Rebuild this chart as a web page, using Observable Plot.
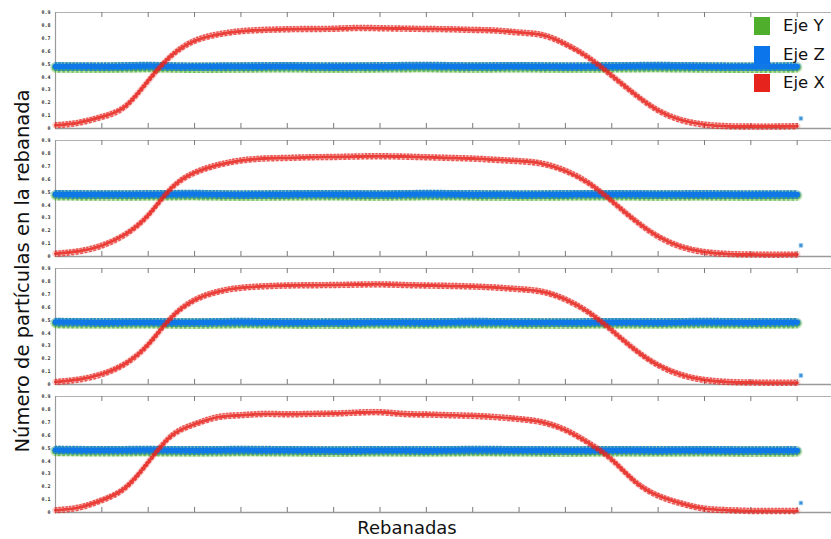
<!DOCTYPE html>
<html>
<head>
<meta charset="utf-8">
<script src="https://cdn.jsdelivr.net/npm/d3@7"></script>
<script src="https://cdn.jsdelivr.net/npm/@observablehq/plot@0.6"></script>
<style>
  html, body { margin: 0; padding: 0; background: #fff; }
  #wrap { position: relative; width: 831px; height: 539px; overflow: hidden; font-family: "DejaVu Sans", sans-serif; }
  #wrap svg { position: absolute; left: 0; top: 0; }
  .ylab { position: absolute; left: 22px; top: 271px; transform: translate(-50%, -50%) rotate(-90deg); white-space: nowrap; font-size: 19.5px; color: #111; }
  .xlab { position: absolute; left: 407px; top: 517px; transform: translateX(-50%); font-size: 18px; color: #111; white-space: nowrap; }
  .legend { position: absolute; left: 754px; top: 17px; width: 77px; }
  .legend div { position: relative; height: 28.5px; font-size: 16.5px; color: #111; white-space: nowrap; }
  .legend span.sw { position: absolute; left: 0; top: 0; width: 16px; height: 18px; }
  .legend span.tx { position: absolute; left: 29px; top: -1px; white-space: nowrap; }
</style>
</head>
<body>
<div id="wrap"></div>
<script>
// Number of particles per slice, four runs (panels top to bottom).
// Red (Eje X) sampled every 50 slices, green/blue (Eje Y, Eje Z) every 100 slices.
const panels = [1, 2, 3, 4];
const seriesNames = ["Eje Y", "Eje Z", "Eje X"];
const seriesColors = ["#4fae2c", "#0b76ec", "#e6231d"];
const yTickValues = [0, 0.1, 0.2, 0.3, 0.4, 0.5, 0.6, 0.7, 0.8, 0.9];
const xTickValues = [100, 200, 300, 400, 500, 600, 700, 800, 900, 1000, 1100, 1200, 1300, 1400, 1500, 1600];
const redStep = 50;
const bandStep = 100;
const lastSlice = 1608;

const ejeX1 = [0.025, 0.045, 0.09, 0.17, 0.37, 0.565, 0.68, 0.73, 0.755, 0.765, 0.77, 0.772, 0.774, 0.78, 0.778, 0.775, 0.772, 0.77, 0.765, 0.76, 0.745, 0.725, 0.655, 0.55, 0.41, 0.265, 0.14, 0.065, 0.03, 0.018, 0.015, 0.015, 0.018];
const ejeX2 = [0.022, 0.04, 0.085, 0.17, 0.32, 0.53, 0.65, 0.71, 0.745, 0.76, 0.765, 0.77, 0.772, 0.776, 0.778, 0.775, 0.77, 0.765, 0.76, 0.75, 0.74, 0.72, 0.665, 0.57, 0.43, 0.28, 0.155, 0.075, 0.035, 0.02, 0.015, 0.014, 0.015];
const ejeX3 = [0.02, 0.038, 0.08, 0.16, 0.31, 0.52, 0.655, 0.72, 0.75, 0.762, 0.768, 0.77, 0.772, 0.775, 0.777, 0.772, 0.768, 0.765, 0.76, 0.752, 0.74, 0.72, 0.66, 0.56, 0.42, 0.27, 0.15, 0.075, 0.035, 0.02, 0.015, 0.014, 0.014];
const ejeX4 = [0.018, 0.038, 0.095, 0.19, 0.39, 0.595, 0.685, 0.74, 0.755, 0.765, 0.762, 0.765, 0.768, 0.775, 0.778, 0.765, 0.76, 0.755, 0.75, 0.74, 0.725, 0.70, 0.64, 0.54, 0.41, 0.24, 0.13, 0.07, 0.03, 0.018, 0.012, 0.012, 0.012];

const ejeY1 = [0.474, 0.472, 0.476, 0.471, 0.473, 0.475, 0.472, 0.474, 0.476, 0.473, 0.475, 0.472, 0.474, 0.476, 0.473, 0.471, 0.474];
const ejeY2 = [0.475, 0.473, 0.474, 0.476, 0.472, 0.474, 0.475, 0.473, 0.476, 0.474, 0.472, 0.474, 0.475, 0.473, 0.474, 0.472, 0.473];
const ejeY3 = [0.476, 0.474, 0.475, 0.473, 0.476, 0.474, 0.473, 0.475, 0.474, 0.476, 0.474, 0.473, 0.475, 0.474, 0.476, 0.474, 0.475];
const ejeY4 = [0.477, 0.475, 0.476, 0.474, 0.476, 0.475, 0.473, 0.475, 0.474, 0.476, 0.475, 0.473, 0.475, 0.474, 0.475, 0.473, 0.474];

const ejeZ1 = [0.482, 0.480, 0.484, 0.479, 0.481, 0.483, 0.480, 0.482, 0.485, 0.481, 0.483, 0.480, 0.482, 0.484, 0.481, 0.479, 0.482];
const ejeZ2 = [0.483, 0.481, 0.482, 0.484, 0.480, 0.482, 0.483, 0.481, 0.484, 0.482, 0.480, 0.482, 0.483, 0.481, 0.482, 0.480, 0.481];
const ejeZ3 = [0.484, 0.482, 0.483, 0.481, 0.484, 0.482, 0.481, 0.483, 0.482, 0.484, 0.482, 0.481, 0.483, 0.482, 0.484, 0.482, 0.483];
const ejeZ4 = [0.485, 0.483, 0.484, 0.482, 0.484, 0.483, 0.481, 0.483, 0.482, 0.484, 0.483, 0.481, 0.483, 0.482, 0.483, 0.481, 0.482];

// the final slice of Eje Z drops in every run
const ejeZLast = [0.078, 0.086, 0.07, 0.074];

const xByPanel = [ejeX1, ejeX2, ejeX3, ejeX4];
const yByPanel = [ejeY1, ejeY2, ejeY3, ejeY4];
const zByPanel = [ejeZ1, ejeZ2, ejeZ3, ejeZ4];

// one flat table, faceted by panel
const rows = [];
panels.forEach((p, k) => {
  yByPanel[k].forEach((v, i) => rows.push({panel: p, series: "Eje Y", slice: i * bandStep, value: v}));
  zByPanel[k].forEach((v, i) => rows.push({panel: p, series: "Eje Z", slice: i * bandStep, value: v}));
  xByPanel[k].forEach((v, i) => rows.push({panel: p, series: "Eje X", slice: i * redStep, value: v}));
  rows.push({panel: p, series: "Eje Z last", slice: lastSlice, value: ejeZLast[k]});
});

const [cY, cZ, cX] = seriesColors;
const tickLen = 0.039; // about 5px in value units
const tickColor = "#7a7a7a";

// a series drawn as a solid core with speckled edges
function band(name, color, core, spread, opts = {}) {
  const base = {filter: d => d.series === name, x: "slice", y: "value", stroke: color, curve: opts.curve ?? "catmull-rom"};
  return [
    Plot.line(rows, {...base, strokeWidth: core + 2 * spread, strokeOpacity: opts.halo ?? 0.18}),
    Plot.line(rows, {...base, strokeWidth: 1.6, dy: -(core / 2 + spread * 0.5), strokeDasharray: "1.2 2.3", strokeOpacity: 0.7}),
    Plot.line(rows, {...base, strokeWidth: 1.6, dy: core / 2 + spread * 0.5, strokeDasharray: "1.6 2.9", strokeDashoffset: 1.5, strokeOpacity: 0.7}),
    Plot.line(rows, {...base, strokeWidth: core, strokeOpacity: opts.opacity ?? 0.92})
  ];
}

const chart = Plot.plot({
  width: 831,
  height: 539,
  marginLeft: 55,
  marginRight: 0,
  marginTop: 12,
  marginBottom: 26.5,
  facet: {data: rows, y: "panel"},
  fy: {domain: panels, axis: null, paddingInner: 0.096, paddingOuter: 0},
  x: {domain: [0, 1674], axis: null},
  y: {domain: [0, 0.9], axis: null},
  style: {background: "transparent"},
  marks: [
    // box: left, top and bottom edges
    Plot.ruleY([0], {stroke: "#9a9a9a", strokeWidth: 1.3}),
    Plot.ruleY([0.9], {stroke: "#b0b0b0", strokeWidth: 1.2}),
    Plot.ruleX([0], {stroke: "#9a9a9a", strokeWidth: 1.2}),
    // inward x ticks at top and bottom
    Plot.ruleX(xTickValues, {x: d => d, y1: 0.9, y2: 0.9 - tickLen, stroke: tickColor}),
    Plot.ruleX(xTickValues, {x: d => d, y1: 0, y2: tickLen, stroke: tickColor}),
    // y tick labels
    Plot.text(yTickValues, {
      y: d => d, frameAnchor: "left", dx: -5, textAnchor: "end",
      text: d => d === 0 ? "0" : d.toFixed(1),
      fontSize: 5, fontWeight: "bold", fontFamily: "DejaVu Sans Mono", fill: "#333"
    }),
    // Eje Y band, mostly hidden below Eje Z
    ...band("Eje Y", cY, 7, 1.8, {halo: 0.3, opacity: 0.8}),
    // Eje Z band
    ...band("Eje Z", cZ, 5.5, 1.5, {halo: 0.25, opacity: 0.95}),
    Plot.dot(rows, {filter: d => d.series === "Eje Z last", x: "slice", y: "value", symbol: "square", r: 2, fill: "#3a8fd8", stroke: "#8fc6e8", strokeWidth: 0.8}),
    // Eje X curve
    ...band("Eje X", cX, 3, 1.8, {halo: 0.2, opacity: 0.85, curve: "natural"})
  ]
});

const wrap = document.getElementById("wrap");
wrap.appendChild(chart);

const yl = document.createElement("div");
yl.className = "ylab";
yl.textContent = "Número de partículas en la rebanada";
wrap.appendChild(yl);

const xl = document.createElement("div");
xl.className = "xlab";
xl.textContent = "Rebanadas";
wrap.appendChild(xl);

const lg = document.createElement("div");
lg.className = "legend";
seriesNames.forEach((name, i) => {
  const row = document.createElement("div");
  const sw = document.createElement("span");
  sw.className = "sw";
  sw.style.background = seriesColors[i];
  const tx = document.createElement("span");
  tx.className = "tx";
  tx.textContent = name;
  row.appendChild(sw);
  row.appendChild(tx);
  lg.appendChild(row);
});
wrap.appendChild(lg);
</script>
</body>
</html>
